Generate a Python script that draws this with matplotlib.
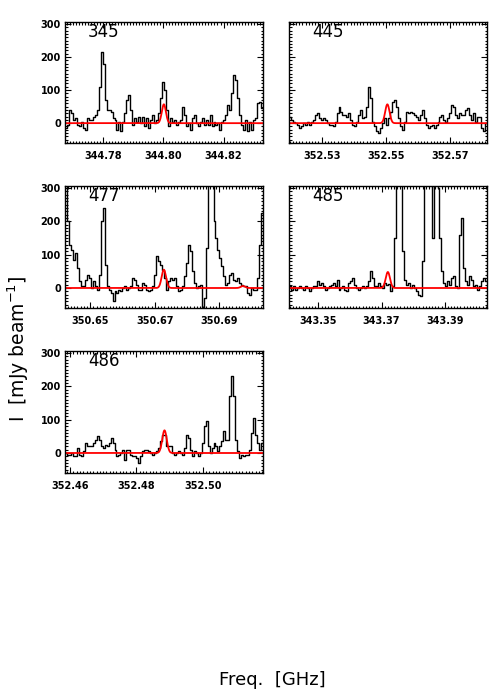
import numpy as np
import matplotlib
matplotlib.use("Agg")
import matplotlib.pyplot as plt
from matplotlib.ticker import MultipleLocator, FixedLocator, FormatStrFormatter

# ---------------- data ----------------
labels = ["345", "445", "477", "485", "486"]

# frequency window edges (GHz) and number of channels
x_lo = [344.7674, 352.5198, 350.6422, 343.3407, 352.4585]
x_hi = [344.8331, 352.5816, 350.7035, 343.4034, 352.5182]
n_chan = 100

xticks = [[344.78, 344.80, 344.82],
          [352.53, 352.55, 352.57],
          [350.65, 350.67, 350.69],
          [343.35, 343.37, 343.39],
          [352.46, 352.48, 352.50]]

spec_345 = [-15, -5, 40, 30, 10, 15, -5, -10, 5, -15,
            -20, 15, 10, 10, 20, 25, 40, 110, 215, 180,
            70, 40, 40, 35, 15, 10, -20, 5, -25, 5,
            30, 70, 85, 40, -5, 15, 5, 20, 0, 20,
            -10, 15, -15, 10, 25, 0, 10, 30, 75, 125,
            100, 40, -10, 15, 5, 10, -5, 5, 10, 50,
            25, -10, 0, -20, 15, 25, 0, -10, 5, 15,
            -5, 10, -5, 25, -10, 5, -5, 0, -20, 5,
            10, 25, 55, 40, 90, 145, 130, 75, 25, -5,
            -20, 10, -25, 5, -20, 10, 15, 60, 65, 45]

spec_445 = [20, 10, 5, 0, -5, -15, -10, 0, -5, 5,
            -5, 5, 10, 25, 30, 15, 10, 15, 10, 0,
            -5, -5, -10, 5, 30, 50, 35, 25, 25, 20,
            30, 10, -5, -10, 5, 25, 40, 15, 20, 50,
            110, 75, 5, -10, -25, -30, -15, 0, 15, -5,
            15, 35, 65, 70, 50, 15, -10, -20, 5, 35,
            30, 35, 30, 25, 20, 10, 25, 40, 15, -5,
            -15, -10, -5, -15, -5, 5, 20, 25, 10, 5,
            15, 30, 55, 50, 25, 15, 30, 25, 25, 40,
            45, 25, 10, 30, 5, 20, 20, -15, -25, 0]

spec_477 = [360, 200, 130, 115, 85, 105, 60, 20, 5, 5,
            25, 40, 30, 0, 20, 5, -5, 40, 200, 240,
            70, 5, -5, -15, -40, -10, -15, -5, -10, 0,
            5, -5, 0, 5, 30, 25, 10, -5, -5, 15,
            10, -5, -10, -5, 5, 40, 95, 80, 70, 55,
            30, -5, 20, 30, 25, 30, 5, -10, -5, 5,
            35, 75, 130, 110, 50, 15, 0, 5, 10, -70,
            -30, 120, 340, 420, 360, 200, 150, 115, 90, 65,
            35, 10, 15, 40, 45, 25, 20, 30, 15, 10,
            5, 5, -15, -20, 0, -5, -5, 30, 130, 225]

spec_485 = [5, -5, 5, -5, 0, 5, 0, -5, 5, 0,
            -10, 0, 5, 5, 20, 10, 15, 5, -5, 0,
            5, 10, 15, 5, 25, -5, 0, 5, -5, -10,
            15, 20, 30, 10, 0, -5, 0, 5, 0, 5,
            20, 50, 30, 5, 5, 15, 5, 0, 15, 10,
            12, -10, 5, 150, 400, 450, 320, 110, 25, 10,
            15, 0, 10, 0, -10, -20, -25, 80, 350, 450,
            420, 330, 150, 380, 420, 300, 150, 50, 15, 5,
            20, 10, 30, 35, 5, 0, 160, 210, 60, 20,
            10, 35, 25, 5, 10, -5, 5, 20, 30, 20]

spec_486 = [0, -5, -5, 0, -10, -10, 15, -5, -10, 5,
            30, 20, 20, 20, 30, 40, 50, 40, 20, 15,
            25, 20, 30, 45, 30, 10, -10, -5, 0, 10,
            -20, 10, 10, -5, -10, -10, -15, -30, -10, 5,
            10, 10, 5, 0, -5, 0, 5, 15, 35, 55,
            55, 20, 20, 20, 0, -5, 0, 5, 0, -5,
            15, 55, 45, 10, -10, 5, 0, -10, 0, 30,
            80, 95, 20, 0, 15, 30, 20, 5, 20, 35,
            65, 40, 40, 170, 230, 170, 40, 5, -15, -5,
            -10, -5, -5, 10, 60, 105, 55, 30, 10, 30]

spectra = [spec_345, spec_445, spec_477, spec_485, spec_486]

# Gaussian model components: (centre GHz, amplitude mJy/beam, FWHM GHz)
model_345 = [(344.8002, 57, 0.0016)]
model_445 = [(352.5505, 57, 0.0016)]
model_477 = [(350.6728, 55, 0.0016), (350.6973, 6, 0.0016)]
model_485 = [(343.3720, 48, 0.0016)]
model_486 = [(352.4885, 68, 0.0016)]
models = [model_345, model_445, model_477, model_485, model_486]

ylim = (-60, 306)
yticks = [0, 100, 200, 300]

# ---------------- layout ----------------
W, H = 500, 700
fig = plt.figure(figsize=(W / 100, H / 100), dpi=100)

col_x = [65, 289]
row_y = [(22, 143), (186, 308), (351, 473)]
pw = 198
positions = [(0, 0), (1, 0), (0, 1), (1, 1), (0, 2)]

tick_fp = matplotlib.font_manager.FontProperties(family="DejaVu Sans",
                                                 weight="bold", size=7)

for k in range(5):
    c, r = positions[k]
    x0 = col_x[c]
    ytop, ybot = row_y[r]
    ax = fig.add_axes([x0 / W, 1 - ybot / H, pw / W, (ybot - ytop) / H])

    lo, hi = x_lo[k], x_hi[k]
    step = (hi - lo) / n_chan
    freq = lo + step * (np.arange(n_chan) + 0.5)
    vals = np.asarray(spectra[k], dtype=float)
    ax.step(freq, vals, where="mid", color="black", lw=1.0)

    fine = np.linspace(lo, hi, 800)
    model = np.zeros_like(fine)
    for (cen, amp, fwhm) in models[k]:
        sig = fwhm / 2.3548
        model += amp * np.exp(-0.5 * ((fine - cen) / sig) ** 2)
    ax.plot(fine, model, color="red", lw=1.3)

    ax.set_xlim(lo, hi)
    ax.set_ylim(*ylim)
    ax.xaxis.set_major_locator(FixedLocator(xticks[k]))
    ax.xaxis.set_major_formatter(FormatStrFormatter("%.2f"))
    ax.xaxis.set_minor_locator(MultipleLocator(0.001))
    ax.yaxis.set_major_locator(FixedLocator(yticks))
    ax.yaxis.set_minor_locator(MultipleLocator(10))
    ax.tick_params(which="both", direction="in", top=True, right=True,
                   width=0.8)
    ax.tick_params(which="major", length=4)
    ax.tick_params(which="minor", length=1.8)
    ax.tick_params(axis="x", pad=6)
    ax.tick_params(axis="y", pad=3)
    for lab in ax.get_xticklabels() + ax.get_yticklabels():
        lab.set_fontproperties(tick_fp)
    if c == 1:
        ax.set_yticklabels([])
    for sp in ax.spines.values():
        sp.set_linewidth(1.0)
    ax.text(0.115, 0.92, labels[k], transform=ax.transAxes,
            fontsize=12, ha="left", va="center", color="black")

fig.text(18 / W, 1 - 349 / H, r"I  [mJy beam$^{-1}$]", rotation=90,
         ha="center", va="center", fontsize=13.5)
fig.text(272 / W, 1 - 680 / H, "Freq.  [GHz]", ha="center", va="center",
         fontsize=13)

fig.savefig("out.png", dpi=100)
